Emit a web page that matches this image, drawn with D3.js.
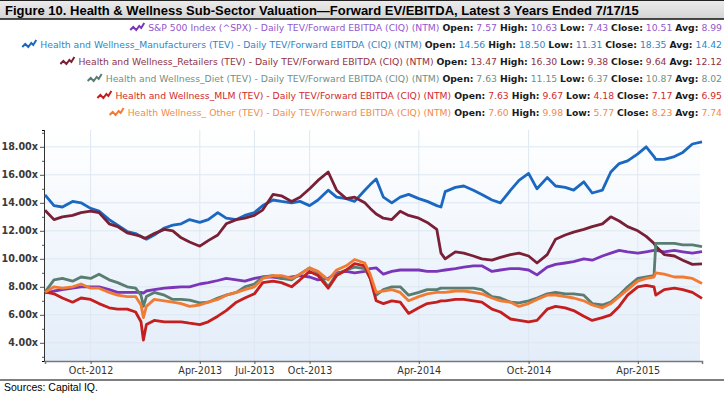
<!DOCTYPE html>
<html>
<head>
<meta charset="utf-8">
<script src="https://cdn.jsdelivr.net/npm/d3@7"></script>
<style>
  body { margin: 0; background: #fff; }
  svg text { font-family: "DejaVu Sans", Verdana, sans-serif; }
</style>
</head>
<body>
<svg id="chart" width="724" height="395"></svg>
<script>
// observation dates (semi-monthly, plus a few extra around sharp moves)
const dates = [
  '2012-07-17','2012-08-01','2012-08-15','2012-09-01','2012-09-15','2012-10-01','2012-10-15','2012-11-01',
  '2012-11-15','2012-12-01','2012-12-15','2012-12-24','2012-12-28','2013-01-02','2013-01-15','2013-02-01',
  '2013-02-15','2013-03-01','2013-03-15','2013-04-01','2013-04-15','2013-05-01','2013-05-15','2013-06-01',
  '2013-06-15','2013-07-01','2013-07-15','2013-08-01','2013-08-15','2013-09-01','2013-09-15','2013-10-01',
  '2013-10-15','2013-11-01','2013-11-15','2013-12-01','2013-12-15','2014-01-01','2014-01-10','2014-01-20',
  '2014-02-01','2014-02-15','2014-03-01','2014-03-15','2014-04-01','2014-04-15','2014-05-01','2014-05-08',
  '2014-05-15','2014-06-01','2014-06-15','2014-07-01','2014-07-15','2014-08-01','2014-08-15','2014-09-01',
  '2014-09-15','2014-10-01','2014-10-15','2014-11-01','2014-11-15','2014-12-01','2014-12-15','2015-01-01',
  '2015-01-15','2015-02-01','2015-02-15','2015-03-01','2015-03-15','2015-04-01','2015-04-15','2015-04-28',
  '2015-05-01','2015-05-15','2015-06-01','2015-06-15','2015-07-01','2015-07-17'
]

const spx = [
  7.57,7.7,7.8,7.9,8.0,8.0,8.0,7.8,7.6,7.6,7.6,7.6,7.55,7.7,7.8,7.9,
  7.95,8.0,8.0,8.2,8.3,8.45,8.6,8.5,8.4,8.6,8.7,8.7,8.6,8.7,8.8,8.7,
  8.5,8.6,9.0,9.1,9.0,9.1,9.3,9.35,8.9,9.1,9.2,9.2,9.2,9.1,9.1,9.15,
  9.2,9.3,9.4,9.5,9.5,9.1,9.2,9.3,9.3,9.2,8.85,9.4,9.6,9.7,9.8,10.0,
  9.9,10.2,10.4,10.6,10.5,10.4,10.5,10.6,10.6,10.5,10.6,10.5,10.4,10.51
]
const manufacturers = [
  14.56,13.8,13.7,14.1,14.0,13.6,13.4,12.8,12.4,11.95,11.8,11.6,11.5,11.4,11.7,12.2,
  12.4,12.5,12.8,12.6,12.8,13.3,12.9,12.8,13.1,13.3,13.8,14.2,14.1,14.0,14.1,13.8,
  14.2,14.9,14.4,14.3,14.1,14.9,15.3,15.7,14.4,14.0,14.4,14.6,14.3,14.1,13.8,13.7,
  14.8,15.1,15.2,14.9,14.6,14.2,14.0,14.9,15.6,16.1,15.0,15.8,15.2,15.1,14.9,15.5,
  14.7,14.9,16.2,16.8,17.0,17.5,18.0,17.3,17.1,17.1,17.3,17.6,18.2,18.35
]
const retailers = [
  13.47,12.8,13.0,13.1,13.3,13.4,13.3,12.5,12.3,11.85,11.7,11.6,11.5,11.5,11.8,12.1,
  12.0,11.5,11.2,10.9,11.3,11.7,12.5,12.8,12.9,13.1,13.5,14.6,14.5,14.1,14.4,15.0,
  15.6,16.2,14.9,14.3,14.4,14.0,13.6,13.2,12.9,12.8,13.4,13.1,12.9,12.6,12.1,10.4,
  10.0,10.5,10.4,10.2,10.0,9.9,10.1,10.3,10.4,10.2,9.7,10.3,11.4,11.7,11.9,12.1,
  12.3,12.5,13.0,12.7,12.3,12.0,11.6,11.1,10.9,10.3,10.2,9.9,9.6,9.64
]
const diet = [
  7.63,8.5,8.6,8.4,8.7,8.6,8.9,8.5,8.3,8.0,7.9,7.4,6.6,7.3,7.6,7.4,
  7.1,7.1,7.05,6.85,6.9,7.2,7.4,7.6,8.0,8.2,8.7,8.8,8.6,8.5,8.9,9.35,
  9.0,8.0,8.9,9.2,9.4,9.3,8.6,7.4,7.8,8.0,8.0,7.4,7.6,7.8,7.8,7.9,
  7.9,7.9,7.9,7.9,7.8,7.3,7.2,6.9,6.85,7.0,7.2,7.5,7.6,7.5,7.5,7.4,
  6.8,6.7,6.9,7.4,8.0,8.6,8.7,8.8,11.1,11.1,11.1,11.0,11.0,10.87
]
const mlm = [
  7.63,7.5,7.2,6.9,7.2,7.1,6.8,6.5,6.4,6.4,6.2,5.5,4.2,5.3,5.6,5.5,
  5.5,5.5,5.4,5.3,5.5,5.9,6.3,6.9,7.2,7.5,8.3,8.4,8.3,8.0,8.5,9.1,
  8.8,7.9,8.8,9.2,9.65,9.5,8.6,7.0,6.8,7.0,6.9,6.1,6.5,6.8,6.9,7.0,
  7.0,7.1,7.1,7.0,6.9,6.4,6.2,5.7,5.6,5.5,5.6,6.4,6.6,6.5,6.3,5.9,
  5.6,5.8,6.0,6.6,7.4,8.0,8.1,8.0,7.4,7.8,7.9,7.8,7.6,7.17
]
const other = [
  7.6,8.0,7.9,8.0,8.2,7.9,7.9,7.6,7.4,7.3,7.3,6.7,5.8,6.6,7.1,7.0,
  6.9,6.8,6.6,6.7,6.9,7.1,7.4,7.6,7.8,8.0,8.6,8.8,8.8,8.6,8.9,9.35,
  9.1,8.5,9.2,9.5,9.95,9.7,8.9,7.6,7.7,7.8,7.6,7.0,7.3,7.5,7.6,7.6,
  7.6,7.7,7.7,7.6,7.5,7.2,7.0,6.9,6.6,6.8,7.1,7.4,7.4,7.3,7.2,7.0,
  6.7,6.5,6.8,7.3,7.8,8.4,8.6,8.7,9.0,8.9,8.7,8.7,8.6,8.23
]

const seriesNames = [
  'S&P 500 Index (^SPX)',
  'Health and Wellness_Manufacturers (TEV)',
  'Health and Wellness_Retailers (TEV)',
  'Health and Wellness_Diet (TEV)',
  'Health and Wellness_MLM (TEV)',
  'Health Wellness_ Other (TEV)'
]
const opens  = ['7.57','14.56','13.47','7.63','7.63','7.60']
const highs  = ['10.63','18.50','16.30','11.15','9.67','9.98']
const lows   = ['7.43','11.31','9.38','6.37','4.18','5.77']
const closes = ['10.51','18.35','9.64','10.87','7.17','8.23']
const avgs   = ['8.99','14.42','12.12','8.02','6.95','7.74']

const yTicks = [4, 6, 8, 10, 12, 14, 16, 18]
const xTicks = ['2012-10-01','2013-04-01','2013-07-01','2013-10-01','2014-04-01','2014-10-01','2015-04-01']

const lineColors = ['#7a35b8', '#1a68c2', '#7a2036', '#5a7d72', '#c41e1e', '#f27b33']
const textColors = ['#9257cc', '#2f86c6', '#8f3145', '#6f9085', '#d02b2b', '#f48a48']

const svg = d3.select('#chart')
const W = 724, H = 395
const margin = {top: 130, right: 24, bottom: 34, left: 44}

const parse = d3.timeParse('%Y-%m-%d')
const xDates = dates.map(parse)
const seriesValues = [spx, manufacturers, retailers, diet, mlm, other]

const x = d3.scaleTime()
  .domain([parse('2012-07-17'), parse('2015-07-17')])
  .range([margin.left + 1, W - margin.right + 2])
const y = d3.scaleLinear()
  .domain([2.7, 19.2])
  .range([H - margin.bottom, margin.top])

// title bar
const defs = svg.append('defs')
const tg = defs.append('linearGradient').attr('id', 'titlebg').attr('x1', 0).attr('x2', 0).attr('y1', 0).attr('y2', 1)
tg.append('stop').attr('offset', '0%').attr('stop-color', '#ececec')
tg.append('stop').attr('offset', '100%').attr('stop-color', '#d4d4d4')
svg.append('rect').attr('x', 0).attr('y', 0).attr('width', W).attr('height', 19).attr('fill', 'url(#titlebg)')
svg.append('line').attr('x1', 0).attr('x2', W).attr('y1', 0.5).attr('y2', 0.5).attr('stroke', '#222')
svg.append('line').attr('x1', 0).attr('x2', W).attr('y1', 19).attr('y2', 19).attr('stroke', '#111').attr('stroke-width', 1.5)
svg.append('text')
  .attr('x', 5).attr('y', 14.5)
  .style('font-family', '"Liberation Sans", Arial, sans-serif')
  .style('font-weight', 'bold').style('font-size', '13px').attr('fill', '#000')
  .text('Figure 10. Health & Wellness Sub-Sector Valuation\u2014Forward EV/EBITDA, Latest 3 Years Ended 7/17/15')

// legend rows, right aligned
const legend = svg.append('g').style('font-size', '9.25px')
seriesNames.forEach((name, i) => {
  const yy = 31 + i * 17
  const t = legend.append('text').attr('x', 722).attr('y', yy).attr('text-anchor', 'end')
  const parts = [
    [name + ' - Daily TEV/Forward EBITDA (CIQ) (NTM) ', false],
    ['Open:', true], [' ' + opens[i] + ' ', false],
    ['High:', true], [' ' + highs[i] + ' ', false],
    ['Low:', true], [' ' + lows[i] + ' ', false],
    ['Close:', true], [' ' + closes[i] + ' ', false],
    ['Avg:', true], [' ' + avgs[i], false]
  ]
  parts.forEach(([s, b]) => {
    t.append('tspan').text(s)
      .attr('fill', b ? '#1a1a1a' : textColors[i])
      .style('font-weight', b ? 'bold' : 'normal')
      .attr('xml:space', 'preserve')
  })
  const w = t.node().getComputedTextLength()
  const x0 = 722 - w - 18
  legend.append('path')
    .attr('d', `M${x0},${yy - 1} L${x0 + 3},${yy - 4} L${x0 + 6},${yy - 1} L${x0 + 9},${yy - 5} L${x0 + 11},${yy - 3} L${x0 + 14},${yy - 8}`)
    .attr('fill', 'none').attr('stroke', lineColors[i]).attr('stroke-width', 2)
})

// plot background
const bg = defs.append('linearGradient').attr('id', 'plotbg').attr('x1', 0).attr('x2', 0).attr('y1', 0).attr('y2', 1)
bg.append('stop').attr('offset', '0%').attr('stop-color', '#ffffff')
bg.append('stop').attr('offset', '100%').attr('stop-color', '#e3edf9')
svg.append('rect')
  .attr('x', margin.left).attr('y', margin.top)
  .attr('width', W - margin.right - margin.left).attr('height', H - margin.bottom - margin.top)
  .attr('fill', 'url(#plotbg)')

// grid
const grid = svg.append('g')
grid.selectAll('.hg').data(yTicks).enter().append('line')
  .attr('x1', margin.left).attr('x2', W - margin.right)
  .attr('y1', d => y(d)).attr('y2', d => y(d))
  .attr('stroke', '#dfe7f1').attr('stroke-width', 1)
grid.selectAll('.vg').data(xTicks.map(parse)).enter().append('line')
  .attr('x1', d => x(d)).attr('x2', d => x(d))
  .attr('y1', margin.top).attr('y2', H - margin.bottom)
  .attr('stroke', '#dfe7f1').attr('stroke-width', 1)

// axes
const yAxis = d3.axisLeft(y).tickValues(yTicks).tickFormat(d => d.toFixed(2) + 'x').tickSize(4).tickPadding(2)
const yMinor = d3.axisLeft(y).tickValues([3, 5, 7, 9, 11, 13, 15, 17, 19]).tickFormat('').tickSize(2)
const xAxis = d3.axisBottom(x).tickValues(xTicks.map(parse)).tickFormat(d3.timeFormat('%b-%Y')).tickSize(3).tickPadding(3)

const gy = svg.append('g').attr('transform', `translate(${margin.left},0)`).call(yAxis)
svg.append('g').attr('transform', `translate(${margin.left},0)`).call(yMinor)
gy.select('.domain').remove()
svg.append('line').attr('x1', margin.left + 0.5).attr('x2', margin.left + 0.5)
  .attr('y1', margin.top).attr('y2', H - margin.bottom).attr('stroke', '#333')
gy.selectAll('text').style('font-size', '9.6px').style('font-weight', 'bold').attr('fill', '#3a3a3a')

const gx = svg.append('g').attr('transform', `translate(0,${H - margin.bottom})`).call(xAxis)
gx.select('.domain').attr('stroke', '#777').attr('stroke-width', 1.5)
gx.selectAll('text').style('font-size', '9.6px').attr('fill', '#333')
svg.selectAll('.tick line').attr('stroke', '#555')

// series lines
const line = d3.line().x((d, i) => x(xDates[i])).y(d => y(d)).curve(d3.curveLinear)
seriesValues.forEach((vals, i) => {
  svg.append('path')
    .datum(vals)
    .attr('d', line)
    .attr('fill', 'none')
    .attr('stroke', lineColors[i])
    .attr('stroke-width', 2.8)
    .attr('stroke-linejoin', 'round')
})

// source
svg.append('line').attr('x1', 0).attr('x2', W).attr('y1', 380).attr('y2', 380).attr('stroke', '#000').attr('stroke-width', 1.2)
svg.append('text').attr('x', 4).attr('y', 391)
  .style('font-family', '"Liberation Sans", Arial, sans-serif').style('font-size', '10.5px')
  .attr('fill', '#000').text('Sources: Capital IQ.')
</script>
</body>
</html>
